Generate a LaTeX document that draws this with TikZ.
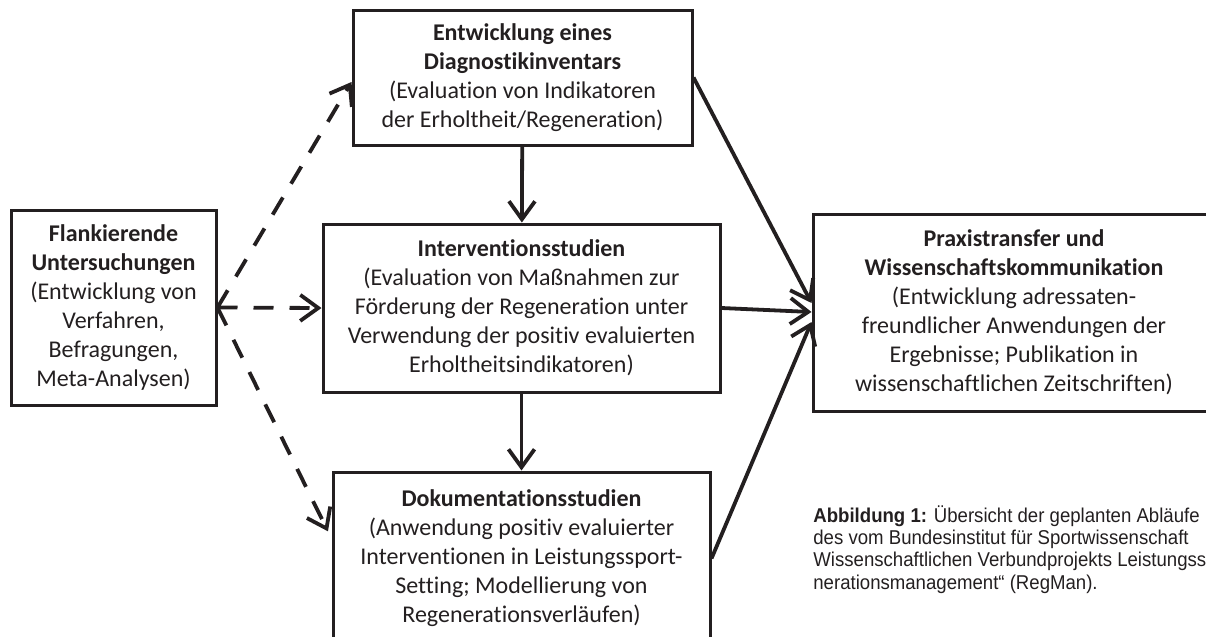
\documentclass[tikz,border=0pt]{standalone}
\usepackage{fontspec}
\setmainfont{Carlito}[RawFeature={-liga;-clig;-calt}]
\newfontfamily\capfont[FakeStretch=0.93]{Liberation Sans}
\usepackage{tikz}
\usetikzlibrary{arrows.meta,positioning,calc}
\definecolor{cInk}{HTML}{231F20}
\tikzset{
  rbox/.style={draw=cInk,line width=1.5pt,align=center,text=cInk,inner sep=3pt,
    font=\fontsize{12pt}{14.5pt}\selectfont},
  arr/.style={-{Straight Barb[length=9pt,width=13pt,line width=1.9pt]},line width=1.9pt,color=cInk},
  darr/.style={arr,dash pattern=on 10pt off 8pt},
  capt/.style={align=left,text=cInk,inner sep=0pt,font=\capfont\fontsize{10pt}{11.2pt}\selectfont},
}
\begin{document}
\begin{tikzpicture}[x=0.5pt,y=-0.5pt]
  \useasboundingbox (0,0) rectangle (1206,637); % page = reference frame
  \node[rbox,minimum width=169.5pt,minimum height=67.5pt] (entw) at (522.5,77.5)
    {\textbf{Entwicklung eines}\\\textbf{Diagnostikinventars}\\(Evaluation von Indikatoren\\der Erholtheit/Regeneration)};
  \node[rbox,minimum width=198.5pt,minimum height=84pt] (interv) at (521.5,308)
    {\textbf{Interventionsstudien}\\(Evaluation von Maßnahmen zur\\Förderung der Regeneration unter\\Verwendung der positiv evaluierten\\Erholtheitsindikatoren)};
  \node[rbox,minimum width=188.5pt,minimum height=86.5pt] (dok) at (521.5,558.5)
    {\textbf{Dokumentationsstudien}\\(Anwendung positiv evaluierter\\Interventionen in Leistungssport-\\Setting; Modellierung von\\Regenerationsverläufen)};
  \node[rbox,minimum width=102.5pt,minimum height=97.5pt] (flank) at (113.5,307.5)
    {\textbf{Flankierende}\\\textbf{Untersuchungen}\\(Entwicklung von\\Verfahren,\\Befragungen,\\Meta-Analysen)};
  \node[rbox,minimum width=201pt,minimum height=98.5pt] (praxis) at (1014,312.5)
    {\textbf{Praxistransfer und}\\\textbf{Wissenschaftskommunikation}\\(Entwicklung adressaten-\\freundlicher Anwendungen der\\Ergebnisse; Publikation in\\wissenschaftlichen Zeitschriften)};
  \node[capt,anchor=north west] (caption) at (813,505)
    {\textbf{Abbildung 1:} Übersicht der geplanten Abläufe i\\des vom Bundesinstitut für Sportwissenschaft\\Wissenschaftlichen Verbundprojekts Leistungss\\nerationsmanagement“ (RegMan).};
  % solid flow
  \draw[arr] (entw) -- (interv);
  \draw[arr] (interv) -- (dok);
  \draw[arr] (entw.east) -- ($(praxis.west)+(0,-9.5)$);
  \draw[arr] (interv.east) -- ($(praxis.west)+(0,-0.5)$);
  \draw[arr] (dok.east) -- ($(praxis.west)+(0,9.5)$);
  % dashed side studies
  \draw[darr] (flank.east) -- ($(entw.west)+(0,4.5)$);
  \draw[darr] (flank.east) -- (interv.west);
  \draw[darr,shorten >=4pt] (flank.east) -- ($(dok.west)+(0,-20)$);
\end{tikzpicture}
\end{document}
